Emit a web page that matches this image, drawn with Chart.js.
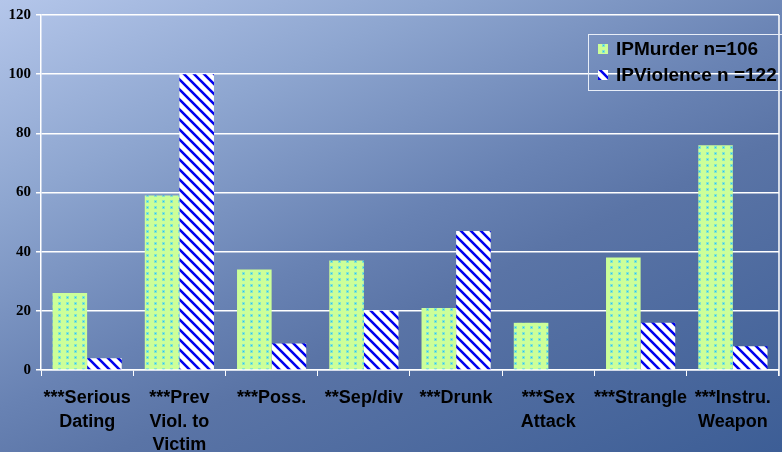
<!DOCTYPE html>
<html>
<head>
<meta charset="utf-8">
<script src="https://cdn.jsdelivr.net/npm/chart.js@4"></script>
<style>
  html, body { margin: 0; padding: 0; background: #7f97c4; }
  #wrap { width: 782px; height: 452px; }
</style>
</head>
<body>
<div id="wrap"><canvas id="riskChart" width="782" height="452"></canvas></div>
<script>
const categories = [
    ["***Serious", "Dating"],
    ["***Prev", "Viol. to", "Victim"],
    ["***Poss."],
    ["**Sep/div"],
    ["***Drunk"],
    ["***Sex", "Attack"],
    ["***Strangle"],
    ["***Instru.", "Weapon"]
];
const murderValues = [26, 59, 34, 37, 21, 16, 38, 76];
const violenceValues = [4, 100, 9, 20, 47, 0, 16, 8];
const murderLabel = "IPMurder n=106";
const violenceLabel = "IPViolence n =122";
const yTicks = [0, 20, 40, 60, 80, 100, 120];

// fill patterns
function dotPattern() {
    let c = document.createElement('canvas');
    c.width = 8; c.height = 6;
    let g = c.getContext('2d');
    g.fillStyle = '#ccff99';
    g.fillRect(0, 0, 8, 6);
    g.fillStyle = '#88e6cc';
    g.fillRect(2, 2, 3, 3);
    g.fillStyle = '#22ccee';
    g.fillRect(3, 3, 1, 1);
    return g.createPattern(c, 'repeat');
}
function stripePattern() {
    let c = document.createElement('canvas');
    c.width = 10; c.height = 10;
    let g = c.getContext('2d');
    g.fillStyle = '#ffffff';
    g.fillRect(0, 0, 10, 10);
    g.strokeStyle = '#0000ee';
    g.lineWidth = 2.6;
    g.beginPath();
    g.moveTo(-5, -5); g.lineTo(15, 15);
    g.moveTo(-5, 5); g.lineTo(5, 15);
    g.moveTo(5, -5); g.lineTo(15, 5);
    g.stroke();
    return g.createPattern(c, 'repeat');
}
const greenDots = dotPattern();
const blueStripes = stripePattern();

const backdrop = {
    id: 'backdrop',
    beforeDraw(chart) {
        let ctx = chart.ctx;
        let grad = ctx.createLinearGradient(0, 0, 315, 669);
        grad.addColorStop(0, '#b4c6ea');
        grad.addColorStop(0.25, '#8ea6d0');
        grad.addColorStop(0.5, '#6882b3');
        grad.addColorStop(0.62, '#5a74a6');
        grad.addColorStop(1, '#3d5e96');
        ctx.save();
        ctx.fillStyle = grad;
        ctx.fillRect(0, 0, chart.width, chart.height);
        ctx.restore();
    },
    afterDraw(chart) {
        let ctx = chart.ctx;
        let a = chart.chartArea;
        ctx.save();
        ctx.strokeStyle = '#ffffff';
        ctx.lineWidth = 1.5;
        ctx.beginPath();
        ctx.moveTo(a.right, a.top);
        ctx.lineTo(a.right, a.bottom + 6);
        ctx.stroke();

        // legend box
        let x = 588, y = 34, w = 196, h = 56;
        ctx.strokeStyle = '#e8eef8';
        ctx.lineWidth = 1;
        ctx.strokeRect(x + 0.5, y + 0.5, w, h);
        let items = [[greenDots, murderLabel], [blueStripes, violenceLabel]];
        ctx.font = 'bold 19px "Liberation Sans", Arial, sans-serif';
        ctx.textBaseline = 'middle';
        items.forEach((it, i) => {
            let cy = y + 15 + i * 26;
            ctx.fillStyle = it[0];
            ctx.fillRect(x + 10, cy - 5, 10, 10);
            ctx.fillStyle = '#000000';
            ctx.fillText(it[1], x + 28, cy + 1);
        });
        ctx.restore();
    }
};

let ctx = document.getElementById('riskChart').getContext('2d');

let riskChart = new Chart(ctx, {
    type: 'bar',
    data: {
        labels: categories,
        datasets: [
            {
                label: murderLabel,
                backgroundColor: greenDots,
                borderWidth: 0,
                data: murderValues
            },
            {
                label: violenceLabel,
                backgroundColor: blueStripes,
                borderWidth: 0,
                data: violenceValues
            }
        ]
    },
    options: {
        responsive: false,
        animation: false,
        layout: { padding: { top: 15, right: 2, left: 0, bottom: 0 } },
        plugins: {
            legend: { display: false },
            tooltip: { enabled: false }
        },
        datasets: {
            bar: { categoryPercentage: 0.75, barPercentage: 1.0 }
        },
        scales: {
            x: {
                afterFit(axis) { axis.height = 82; },
                grid: {
                    display: true,
                    drawOnChartArea: false,
                    drawTicks: true,
                    tickLength: 6,
                    color: '#ffffff',
                    offset: true
                },
                border: { color: '#ffffff', width: 1.5 },
                ticks: {
                    color: '#000000',
                    maxRotation: 0,
                    autoSkip: false,
                    padding: 11,
                    font: { family: '"Liberation Sans", Arial, sans-serif', size: 18, weight: 'bold', lineHeight: 1.28 }
                }
            },
            y: {
                min: 0,
                max: 120,
                afterFit(axis) { axis.width = 41; },
                afterBuildTicks(axis) {
                    axis.ticks = yTicks.map(v => ({ value: v }));
                },
                grid: {
                    color: '#ffffff',
                    lineWidth: 1.5,
                    tickLength: 5
                },
                border: { color: '#ffffff', width: 1.5 },
                ticks: {
                    color: '#000000',
                    padding: 5,
                    font: { family: '"Liberation Serif", "Times New Roman", serif', size: 15, weight: 'bold' }
                }
            }
        }
    },
    plugins: [backdrop]
});
</script>
</body>
</html>
